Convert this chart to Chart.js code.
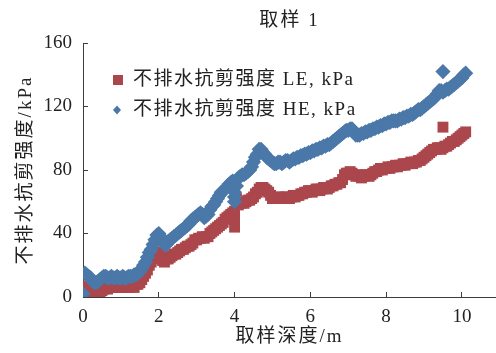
<!DOCTYPE html>
<html>
<head>
<meta charset="utf-8">
<script src="https://cdn.jsdelivr.net/npm/chart.js@4/dist/chart.umd.min.js"></script>
<style>
  html, body { margin: 0; padding: 0; background: #fff; }
  #wrap { width: 496px; height: 353px; }
</style>
</head>
<body>
<div id="wrap"><canvas id="chart" width="496" height="353"></canvas></div>
<script>
// Sampling depth (m), one row per metre
const depths = [
  0.0, 0.05, 0.1, 0.15, 0.2, 0.25, 0.3, 0.35, 0.4, 0.45, 0.5, 0.55, 0.6, 0.65, 0.7, 0.75, 0.8, 0.85, 0.9, 0.95,
  1.0, 1.05, 1.1, 1.15, 1.2, 1.25, 1.3, 1.35, 1.4, 1.45, 1.5, 1.55, 1.6, 1.65, 1.7, 1.75, 1.8, 1.85, 1.9, 1.95,
  2.0, 2.05, 2.1, 2.15, 2.2, 2.25, 2.3, 2.35, 2.4, 2.45, 2.5, 2.55, 2.6, 2.65, 2.7, 2.75, 2.8, 2.85, 2.9, 2.95,
  3.0, 3.05, 3.1, 3.15, 3.2, 3.25, 3.3, 3.35, 3.4, 3.45, 3.5, 3.55, 3.6, 3.65, 3.7, 3.75, 3.8, 3.85, 3.9, 3.95,
  4.0, 4.0, 4.0, 4.05, 4.1, 4.15, 4.2, 4.25, 4.3, 4.35, 4.4, 4.45, 4.5, 4.55, 4.6, 4.65, 4.7, 4.75, 4.8, 4.85, 4.9, 4.95,
  5.0, 5.05, 5.1, 5.15, 5.2, 5.25, 5.3, 5.35, 5.4, 5.45, 5.5, 5.55, 5.6, 5.65, 5.7, 5.75, 5.8, 5.85, 5.9, 5.95,
  6.0, 6.05, 6.1, 6.15, 6.2, 6.25, 6.3, 6.35, 6.4, 6.45, 6.5, 6.55, 6.6, 6.65, 6.7, 6.75, 6.8, 6.85, 6.9, 6.95,
  7.0, 7.05, 7.1, 7.15, 7.2, 7.25, 7.3, 7.35, 7.4, 7.45, 7.5, 7.55, 7.6, 7.65, 7.7, 7.75, 7.8, 7.85, 7.9, 7.95,
  8.0, 8.05, 8.1, 8.15, 8.2, 8.25, 8.3, 8.35, 8.4, 8.45, 8.5, 8.55, 8.6, 8.65, 8.7, 8.75, 8.8, 8.85, 8.9, 8.95,
  9.0, 9.05, 9.1, 9.15, 9.2, 9.25, 9.3, 9.35, 9.4, 9.45, 9.5, 9.5, 9.55, 9.6, 9.65, 9.7, 9.75, 9.8, 9.85, 9.9, 9.95,
  10.0, 10.05, 10.1
];

// Undrained shear strength, LE (kPa)
const strengthLE = [
  5, 3, 7, 5, 4, 3, 2, 1, 2, 3, 4, 5, 6, 5, 6, 7, 7, 6, 6, 7,
  7, 6, 7, 7, 6, 7, 7, 6, 8, 8, 9, 11, 13, 15, 17, 20, 22, 24, 26, 28,
  28, 26, 23, 22, 24, 24, 25, 26, 27, 27, 28, 29, 30, 30, 31, 32, 32, 33, 34, 36,
  36, 37, 37, 38, 37, 38, 38, 40, 41, 42, 43, 44, 45, 46, 47, 49, 50, 51, 52, 53,
  44, 49, 54, 62, 58, 59, 60, 59, 60, 61, 61, 62, 63, 65, 66, 68, 69, 69, 68, 67, 66, 64,
  62, 62, 62, 63, 63, 62, 62, 63, 63, 62, 63, 64, 63, 64, 64, 65, 65, 66, 66, 67,
  67, 66, 67, 68, 68, 67, 68, 69, 69, 68, 69, 70, 70, 71, 71, 72, 72, 74, 77, 78,
  78, 79, 78, 77, 76, 77, 76, 75, 76, 77, 77, 76, 77, 78, 79, 79, 80, 81, 80, 81,
  81, 82, 81, 82, 82, 83, 82, 83, 83, 84, 83, 84, 84, 85, 84, 85, 85, 86, 86, 87,
  88, 89, 90, 91, 92, 93, 93, 94, 94, 93, 94, 107, 95, 95, 96, 97, 98, 98, 99, 100, 101,
  102, 103, 104
];

// Undrained shear strength, HE (kPa)
const strengthHE = [
  2, 15, 14, 13, 12, 10, 9, 9, 10, 11, 12, 13, 13, 12, 12, 13, 12, 12, 13, 12,
  12, 13, 12, 12, 13, 13, 13, 14, 14, 15, 16, 18, 20, 22, 25, 28, 30, 33, 36, 39,
  40, 38, 35, 33, 33, 35, 36, 37, 38, 39, 40, 41, 42, 43, 44, 45, 46, 48, 49, 50,
  51, 52, 53, 52, 50, 51, 52, 55, 57, 58, 60, 62, 64, 66, 67, 68, 69, 71, 72, 73,
  60, 63, 66, 70, 75, 76, 77, 77, 78, 79, 80, 82, 85, 88, 90, 93, 93, 91, 90, 88, 87, 86,
  85, 84, 84, 85, 85, 84, 85, 86, 86, 85, 86, 87, 87, 88, 88, 89, 89, 90, 90, 91,
  91, 92, 92, 93, 93, 94, 94, 95, 95, 96, 96, 97, 98, 99, 100, 101, 102, 103, 104, 105,
  105, 106, 106, 104, 102, 102, 102, 103, 103, 104, 104, 105, 105, 106, 106, 107, 107, 108, 108, 109,
  109, 110, 110, 111, 111, 111, 111, 112, 112, 113, 113, 114, 114, 115, 115, 116, 117, 118, 118, 119,
  120, 121, 122, 123, 124, 125, 126, 128, 130, 130, 129, 142, 130, 131, 131, 132, 133, 134, 135, 136, 137,
  138, 140, 141
];

const xTicks = [0, 2, 4, 6, 8, 10];
const yTicks = [0, 40, 80, 120, 160];

const seriesNames = ['不排水抗剪强度 LE, kPa', '不排水抗剪强度 HE, kPa'];
const chartTitle = '取样 1';
const xTitle = '取样深度/m';
const yTitle = '不排水抗剪强度/kPa';

const RED = '#ab474c';
const BLUE = '#4a78a9';
const AXIS = '#3c3c3c';
const TEXT = '#222222';
const FONT_FAMILY = '"Liberation Serif", "Noto Sans CJK SC", serif';
const TITLE_SPACING = '2px';
const LEGEND_SPACING = '1.5px';

const toPoints = (vals) => vals.map((v, i) => ({ x: depths[i], y: v }));

// Titles are set with a little letter spacing
function spaceText(obj, method) {
  if (!obj || !obj[method] || obj[method]._spaced) return;
  const orig = obj[method];
  const wrapped = function (...args) {
    const ctx = this.ctx;
    const prev = ctx.letterSpacing;
    ctx.letterSpacing = TITLE_SPACING;
    const r = orig.apply(this, args);
    ctx.letterSpacing = prev || '0px';
    return r;
  };
  wrapped._spaced = true;
  obj[method] = wrapped;
}

const spacedTitles = {
  id: 'spacedTitles',
  afterLayout(chart) {
    spaceText(chart.scales.x, 'drawTitle');
    spaceText(chart.scales.y, 'drawTitle');
    spaceText(chart.titleBlock, 'draw');
  }
};

// Legend drawn inside the plot, top-left
const insideLegend = {
  id: 'insideLegend',
  afterDatasetsDraw(chart) {
    const { ctx, chartArea } = chart;
    const mx = chartArea.left + 35;
    const tx = chartArea.left + 50;
    const rows = [chartArea.top + 37, chartArea.top + 67];
    ctx.save();
    ctx.letterSpacing = LEGEND_SPACING;
    ctx.font = '19px ' + FONT_FAMILY;
    ctx.textBaseline = 'middle';
    ctx.textAlign = 'left';
    chart.data.datasets.forEach((ds, i) => {
      const y = rows[i];
      ctx.fillStyle = ds.backgroundColor;
      if (ds.pointStyle === 'rect') {
        ctx.fillRect(mx - 5, y - 5, 10, 10);
      } else {
        ctx.beginPath();
        ctx.moveTo(mx - 1, y - 4.5);
        ctx.lineTo(mx + 3, y);
        ctx.lineTo(mx - 1, y + 4.5);
        ctx.lineTo(mx - 5, y);
        ctx.closePath();
        ctx.fill();
      }
      ctx.fillStyle = TEXT;
      ctx.fillText(ds.label, tx, y);
    });
    ctx.restore();
  }
};

new Chart(document.getElementById('chart'), {
  type: 'scatter',
  data: {
    datasets: [
      {
        label: seriesNames[0],
        data: toPoints(strengthLE),
        pointStyle: 'rect',
        radius: 7.7,
        backgroundColor: RED,
        borderColor: RED,
        borderWidth: 0,
        order: 2
      },
      {
        label: seriesNames[1],
        data: toPoints(strengthHE),
        pointStyle: 'rectRot',
        radius: 7.6,
        backgroundColor: BLUE,
        borderColor: BLUE,
        borderWidth: 0,
        order: 1
      }
    ]
  },
  options: {
    responsive: false,
    animation: false,
    events: [],
    layout: { padding: 0, autoPadding: false },
    plugins: {
      legend: { display: false },
      tooltip: { enabled: false },
      title: {
        display: true,
        text: chartTitle,
        fullSize: false,
        color: TEXT,
        font: { family: FONT_FAMILY, size: 19, weight: 'normal', lineHeight: 1.2 },
        padding: { top: 10, bottom: 10.2 }
      }
    },
    scales: {
      x: {
        type: 'linear',
        min: 0,
        max: 10.9,
        afterFit: (s) => { s.height = 56; s.paddingLeft = 0; s.paddingRight = 0; },
        afterBuildTicks: (s) => { s.ticks = xTicks.map((v) => ({ value: v })); },
        ticks: {
          stepSize: 2,
          includeBounds: false,
          padding: 14,
          color: TEXT,
          font: { family: FONT_FAMILY, size: 19, lineHeight: 1.2 },
          maxRotation: 0
        },
        grid: { drawOnChartArea: false, drawTicks: true, tickLength: -5, color: AXIS, lineWidth: 1 },
        border: { display: true, color: AXIS, width: 1 },
        title: {
          display: true,
          text: xTitle,
          color: TEXT,
          font: { family: FONT_FAMILY, size: 19, lineHeight: 1.2 },
          padding: { top: 0, bottom: 4.6 }
        }
      },
      y: {
        type: 'linear',
        min: 0,
        max: 160,
        afterFit: (s) => { s.width = 83; },
        afterBuildTicks: (s) => { s.ticks = yTicks.map((v) => ({ value: v })); },
        ticks: {
          stepSize: 40,
          padding: 16,
          color: TEXT,
          font: { family: FONT_FAMILY, size: 19, lineHeight: 1.2 }
        },
        grid: { drawOnChartArea: false, drawTicks: true, tickLength: -5, color: AXIS, lineWidth: 1 },
        border: { display: true, color: AXIS, width: 1 },
        title: {
          display: true,
          text: yTitle,
          color: TEXT,
          font: { family: FONT_FAMILY, size: 19, lineHeight: 1.2 },
          padding: { top: 15, bottom: 0 }
        }
      }
    }
  },
  plugins: [spacedTitles, insideLegend]
});
</script>
</body>
</html>
